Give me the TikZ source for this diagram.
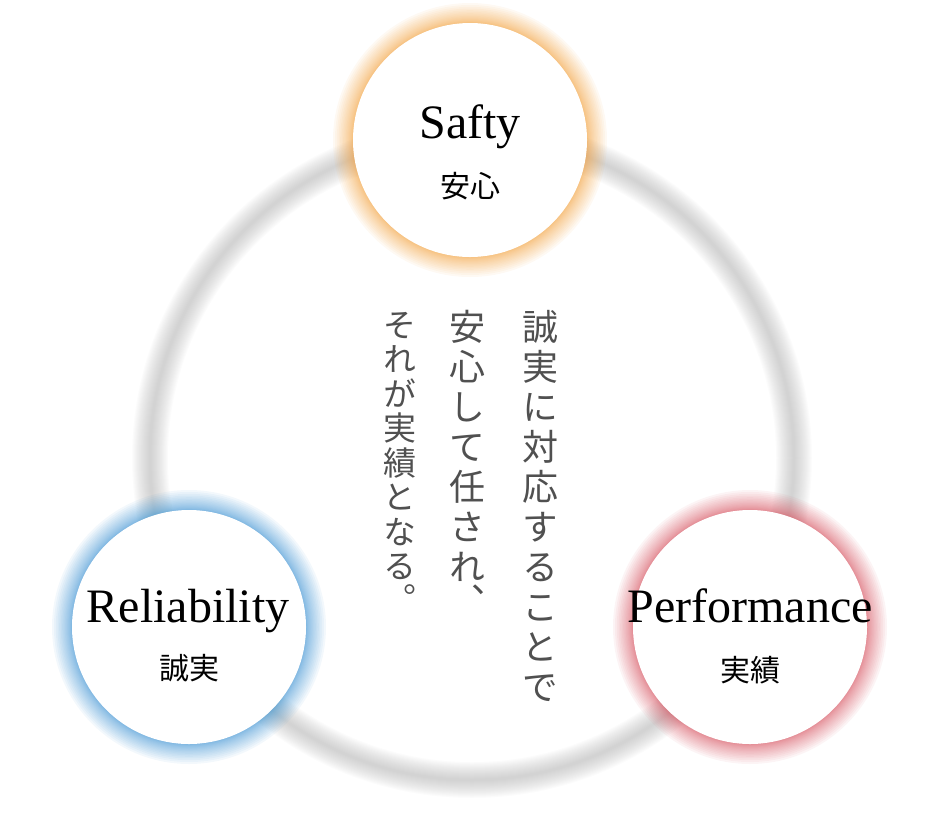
\documentclass[tikz,border=0pt]{standalone}
\usepackage{fontspec}
\setmainfont{Liberation Serif}
\newfontfamily\jpfont{Noto Sans CJK JP}
\newfontfamily\jpvert[RawFeature=+vert]{Noto Sans CJK JP}
\usetikzlibrary{calc}
\definecolor{camGlow}{HTML}{F3A94E}
\definecolor{xanhGlow}{HTML}{4E9BD6}
\definecolor{doGlow}{HTML}{D9606C}
\definecolor{chuXam}{HTML}{505050}
\tikzset{
  vongtron/.style={circle, fill=white, minimum size=234pt, inner sep=0pt},
  nhan/.style={font=\fontsize{48}{50}\selectfont, inner sep=0pt, anchor=base},
  nhanjp/.style={font=\jpfont\fontsize{30}{32}\selectfont, inner sep=0pt},
  cotdoc/.style={align=center, inner sep=0pt, anchor=north, text=chuXam}
}
\begin{document}
\begin{tikzpicture}[x=1pt, y=-1pt]
                \useasboundingbox (0,0) rectangle (940,820);
                % Tâm các vòng
                \coordinate (tamVong) at (472,458);
                \coordinate (cAn) at (470,140);
                \coordinate (cThat) at (189,627);
                \coordinate (cTich) at (750,627);
                % Vòng tròn lớn mờ
                \foreach \w in {2,4,...,36}
                  \draw[black!40, opacity=0.03, line width=\w pt] (tamVong) circle[radius=322pt];
                % Quầng sáng
                \foreach \c/\m in {cAn/camGlow, cThat/xanhGlow, cTich/doGlow}
                  \foreach \k in {1,...,20}
                    \fill[\m, opacity=0.065] (\c) circle[radius=117pt+\k*\k/20*1pt];
                % Ba vòng trắng
                \node[vongtron] (an) at (cAn) {};
                \node[vongtron] (that) at (cThat) {};
                \node[vongtron] (tich) at (cTich) {};
                % Nhãn
                \node[nhan] (tenAn) at (470,138) {Safty};
                \node[nhanjp] (jpAn) at (470,186) {安心};
                \node[nhan] (tenThat) at (188,622) {Reliability};
                \node[nhanjp] (jpThat) at (189,668) {誠実};
                \node[nhan] (tenTich) at (750,622) {Performance};
                \node[nhanjp] (jpTich) at (750,670) {実績};
                % Chữ dọc
                \node[cotdoc, font=\jpvert\fontsize{36}{40}\selectfont] (cot1) at (540,310)
                  {誠\\実\\に\\対\\応\\す\\る\\こ\\と\\で};
                \node[cotdoc, font=\jpvert\fontsize{36}{40}\selectfont] (cot2) at (467,310)
                  {安\\心\\し\\て\\任\\さ\\れ\\[-6pt]、};
                \node[cotdoc, font=\jpvert\fontsize{33}{34.5}\selectfont] (cot3) at (400,312)
                  {そ\\れ\\が\\実\\績\\と\\な\\る\\[-2pt]。};
            \end{tikzpicture}
\end{document}
